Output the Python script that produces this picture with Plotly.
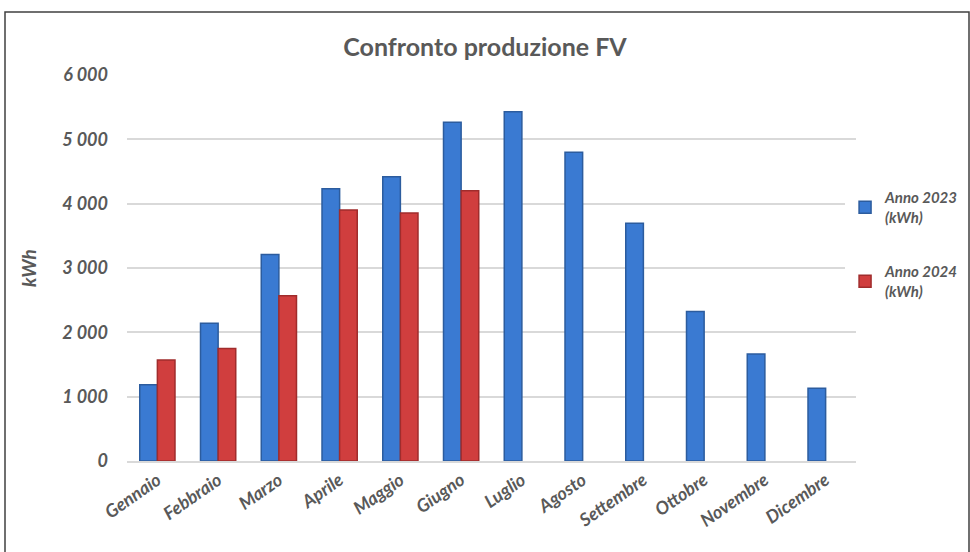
import plotly.graph_objects as go

mesi = ["Gennaio", "Febbraio", "Marzo", "Aprile", "Maggio", "Giugno",
        "Luglio", "Agosto", "Settembre", "Ottobre", "Novembre", "Dicembre"]
anno_2023 = [1185, 2140, 3210, 4230, 4420, 5265, 5430, 4800, 3695, 2325, 1665, 1130]
anno_2024 = [1570, 1750, 2570, 3900, 3855, 4200, None, None, None, None, None, None]
y_ticks = [0, 1000, 2000, 3000, 4000, 5000, 6000]

FONT = "Lato"
GREY = "#595959"

fig = go.Figure()
fig.add_trace(go.Bar(
    x=mesi, y=anno_2023, name="Anno 2023<br>(kWh)", legendgroup="a",
    marker=dict(color="#3A7AD2", line=dict(color="#2C5C9E", width=1.5)),
))
fig.add_trace(go.Bar(
    x=mesi, y=anno_2024, name="Anno 2024<br>(kWh)", legendgroup="b",
    marker=dict(color="#D03E3E", line=dict(color="#A02C2C", width=1.5)),
))

fig.update_layout(
    width=970, height=552,
    margin=dict(l=127, r=114, t=75, b=91, autoexpand=False),
    paper_bgcolor="white", plot_bgcolor="white",
    separators=", ",
    barmode="group", bargap=0.42, bargroupgap=0.0,
    title=dict(text="<b>Confronto produzione FV</b>", x=0.5, xanchor="center",
               y=0.915, yanchor="middle",
               font=dict(family=FONT, size=25, color=GREY)),
    font=dict(family=FONT, color=GREY),
    xaxis=dict(tickangle=-35, showgrid=False, showline=True, linecolor="#D9D9D9",
               linewidth=1.5, ticks="", automargin=False,
               tickfont=dict(family=FONT, size=18, color=GREY, style="italic", weight="bold")),
    yaxis=dict(range=[0, 6000], tickvals=y_ticks, tickformat=",d", automargin=False,
               showgrid=True, gridcolor="#D9D9D9", gridwidth=1.5, zeroline=False,
               showline=False, ticks="", ticklabelstandoff=18,
               title=dict(text="<i>kWh</i>", standoff=20,
                          font=dict(family=FONT, size=19, color=GREY, weight="bold")),
               tickfont=dict(family=FONT, size=18, color=GREY, style="italic", weight="bold")),
    legend=dict(x=0.985, y=0.725, xanchor="left", yanchor="top",
                tracegroupgap=32, traceorder="grouped", itemwidth=30,
                font=dict(family=FONT, size=15, color=GREY, style="italic", weight="bold")),
    shapes=[dict(type="rect", xref="paper", yref="paper",
                 x0=(5 - 127) / 729, x1=(969 - 127) / 729,
                 y0=-(600 - 461) / 386, y1=(461 - 12) / 386,
                 line=dict(color="#404040", width=1.5), fillcolor="rgba(0,0,0,0)",
                 layer="below")],
)

fig.write_html("out.html", config={"displayModeBar": False},
               post_script="document.body.style.margin='0';")
